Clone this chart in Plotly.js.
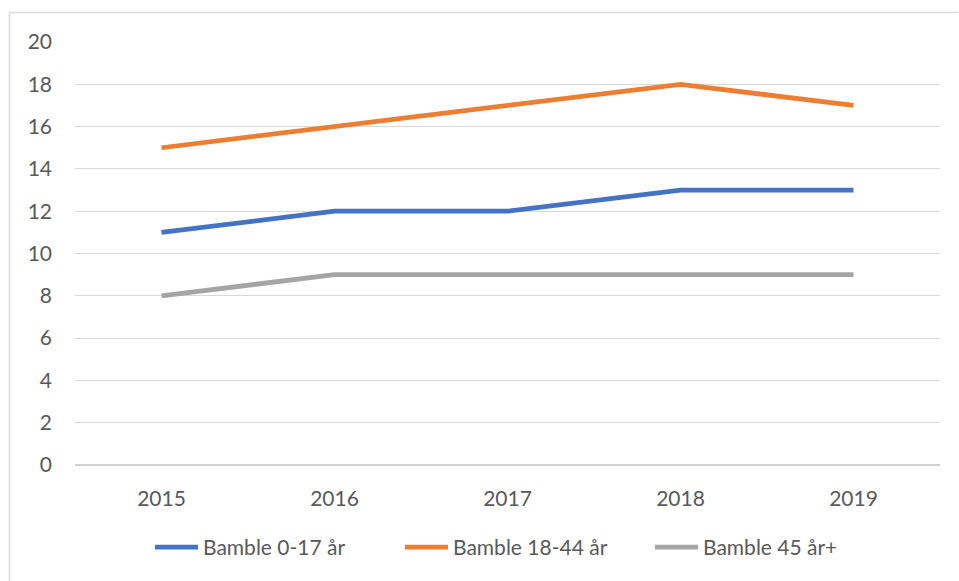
<!DOCTYPE html>
<html>
<head>
<meta charset="utf-8">
<script src="https://cdn.plot.ly/plotly-3.0.1.min.js"></script>
<style>html,body{margin:0;padding:0;background:#fff;}#chart{width:959px;height:581px;}</style>
</head>
<body>
<div id="chart"></div>
<script>
const years = ['2015', '2016', '2017', '2018', '2019'];
const seriesNames = ['Bamble 0-17 år', 'Bamble 18-44 år', 'Bamble 45 år+'];
const age0to17 = [11, 12, 12, 13, 13];
const age18to44 = [15, 16, 17, 18, 17];
const age45plus = [8, 9, 9, 9, 9];
const yTicks = [0, 2, 4, 6, 8, 10, 12, 14, 16, 18, 20];

const colors = ['#4472C4', '#ED7D31', '#A5A5A5'];
const values = [age0to17, age18to44, age45plus];

const traces = values.map((v, i) => ({
  x: years,
  y: v,
  type: 'scatter',
  mode: 'lines',
  name: seriesNames[i],
  line: {color: colors[i], width: 4.75},
  hoverinfo: 'skip'
}));

const font = {family: 'Lato, "Open Sans", sans-serif', size: 21, color: '#595959'};

const layout = {
  width: 959,
  height: 581,
  margin: {l: 75, r: 19, t: 42, b: 116},
  paper_bgcolor: '#ffffff',
  plot_bgcolor: '#ffffff',
  font: font,
  showlegend: true,
  legend: {
    orientation: 'h',
    x: (150 - 75) / 865, xanchor: 'left',
    y: -0.195, yanchor: 'middle',
    font: font,
    itemwidth: 43,
    entrywidth: 192,
    entrywidthmode: 'pixels',
    tracegroupgap: 0
  },
  xaxis: {
    type: 'category',
    range: [-0.5, 4.5],
    showgrid: false,
    zeroline: false,
    showline: false,
    ticks: '',
    ticklabelstandoff: 19,
    tickfont: font,
    fixedrange: true
  },
  yaxis: {
    range: [0, 20],
    tickvals: yTicks,
    ticktext: yTicks.map(String),
    showgrid: true,
    gridcolor: '#d9d9d9',
    gridwidth: 1,
    zeroline: true,
    zerolinecolor: '#d0d0d0',
    zerolinewidth: 1.5,
    showline: false,
    ticks: '',
    ticklabelstandoff: 22,
    tickfont: font,
    fixedrange: true
  },
  shapes: [
    {type: 'line', xref: 'paper', yref: 'paper',
     x0: (9.5 - 75) / 865, x1: (958 - 75) / 865,
     y0: (465 - 12.5) / 423, y1: (465 - 12.5) / 423,
     line: {color: '#d9d9d9', width: 1.5}},
    {type: 'line', xref: 'paper', yref: 'paper',
     x0: (9.5 - 75) / 865, x1: (9.5 - 75) / 865,
     y0: (465 - 12.5) / 423, y1: (465 - 590) / 423,
     line: {color: '#d9d9d9', width: 1.5}}
  ]
};

Plotly.newPlot('chart', traces, layout, {displayModeBar: false, staticPlot: true});
</script>
</body>
</html>
